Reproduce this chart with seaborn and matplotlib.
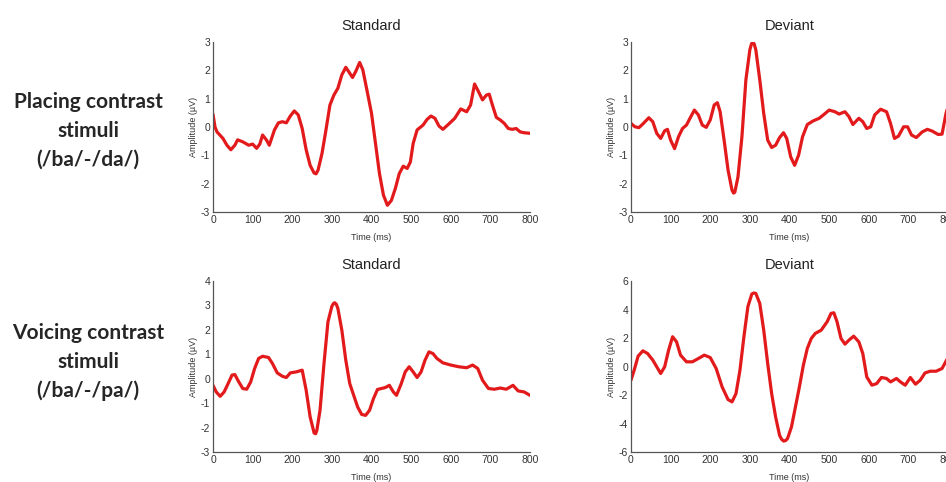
import numpy as np
import pandas as pd
import matplotlib
matplotlib.use("Agg")
import matplotlib.pyplot as plt
import seaborn as sns

# ERP waveforms (time in ms, amplitude in uV)
t_place_std = [0, 5, 10, 25, 35, 45, 55, 62, 75, 90, 100, 110, 118, 125, 135, 142, 155, 165, 175, 185,
               195, 205, 215, 225, 235, 245, 255, 260, 265, 275, 285, 295, 305, 315, 325, 335, 345, 352, 360,
               370, 378, 390, 400, 410, 420, 430, 440, 450, 460, 470, 480, 490, 498, 505, 515, 530, 540,
               550, 560, 570, 580, 595, 610, 625, 640, 650, 660, 670, 680, 690, 697, 705, 715, 725, 735,
               745, 755, 765, 775, 785, 800]
a_place_std = [0.45, 0.0, -0.17, -0.4, -0.64, -0.8, -0.64, -0.45, -0.52, -0.64, -0.6, -0.75, -0.6, -0.28,
               -0.46, -0.64, -0.1, 0.15, 0.19, 0.15, 0.39, 0.57, 0.43, -0.05, -0.8, -1.35, -1.62, -1.65, -1.52,
               -0.93, -0.1, 0.78, 1.13, 1.37, 1.84, 2.11, 1.9, 1.75, 1.96, 2.28, 2.02, 1.19, 0.48, -0.58,
               -1.64, -2.4, -2.76, -2.59, -2.17, -1.64, -1.38, -1.46, -1.23, -0.58, -0.1, 0.07, 0.27, 0.39,
               0.31, 0.04, -0.08, 0.11, 0.31, 0.64, 0.54, 0.78, 1.52, 1.25, 0.96, 1.13, 1.16, 0.78, 0.34,
               0.25, 0.13, -0.05, -0.08, -0.05, -0.17, -0.2, -0.22]

t_place_dev = [0, 10, 20, 30, 45, 55, 65, 75, 85, 92, 100, 110, 120, 130, 140, 150, 160, 170, 180, 190,
               200, 210, 218, 225, 235, 245, 255, 259, 262, 270, 280, 290, 300, 304, 307, 311, 315, 325, 335,
               345, 355, 365, 375, 385, 393, 403, 413, 423, 433, 445, 460, 475, 490, 500, 515, 525, 540,
               550, 560, 575, 585, 595, 605, 615, 630, 645, 655, 665, 675, 688, 698, 708, 720, 735, 748,
               760, 775, 785, 795, 800]
a_place_dev = [0.13, 0.01, -0.02, 0.11, 0.33, 0.19, -0.22, -0.4, -0.13, -0.08, -0.46, -0.76, -0.34, -0.05,
               0.07, 0.34, 0.6, 0.43, 0.07, -0.01, 0.25, 0.78, 0.86, 0.54, -0.46, -1.52, -2.23, -2.33,
               -2.3, -1.76, -0.34, 1.67, 2.73, 2.93, 3.0, 2.93, 2.73, 1.67, 0.48, -0.46, -0.72, -0.64,
               -0.37, -0.2, -0.4, -1.05, -1.35, -0.99, -0.34, 0.09, 0.22, 0.31, 0.48, 0.6, 0.54, 0.46,
               0.54, 0.37, 0.09, 0.31, 0.19, -0.05, 0.01, 0.43, 0.63, 0.54, 0.13, -0.4, -0.32, 0.01, 0.01,
               -0.28, -0.37, -0.17, -0.08, -0.14, -0.26, -0.25, 0.48, 0.74]

t_voice_std = [0, 8, 18, 28, 38, 48, 55, 65, 75, 85, 95, 105, 115, 125, 140, 150, 162, 175, 185, 195, 210,
               225, 235, 245, 255, 259, 262, 270, 280, 290, 300, 304, 307, 311, 315, 325, 335, 345, 355,
               365, 375, 385, 395, 405, 415, 425, 435, 445, 455, 463, 475, 485, 495, 505, 515, 525, 535,
               545, 555, 565, 580, 600, 620, 640, 655, 668, 680, 695, 710, 725, 740, 757, 770, 785, 800]
a_voice_std = [-0.27, -0.54, -0.72, -0.54, -0.2, 0.15, 0.17, -0.13, -0.4, -0.43, -0.13, 0.42, 0.83, 0.92,
               0.87, 0.62, 0.24, 0.1, 0.05, 0.24, 0.28, 0.35, -0.47, -1.56, -2.22, -2.25, -2.11, -1.29,
               0.62, 2.33, 2.97, 3.08, 3.11, 3.05, 2.88, 1.99, 0.76, -0.2, -0.68, -1.16, -1.46, -1.5,
               -1.29, -0.81, -0.44, -0.4, -0.36, -0.27, -0.54, -0.68, -0.2, 0.28, 0.49, 0.28, 0.05, 0.28,
               0.76, 1.1, 1.03, 0.83, 0.65, 0.56, 0.49, 0.45, 0.56, 0.42, -0.06, -0.4, -0.43, -0.38,
               -0.43, -0.27, -0.5, -0.54, -0.68]

t_voice_dev = [0, 8, 18, 30, 42, 55, 65, 75, 85, 95, 105, 115, 125, 140, 155, 170, 185, 200, 215, 230,
               245, 255, 265, 275, 285, 295, 305, 310, 315, 325, 335, 345, 355, 365, 375, 380, 385, 390,
               395, 405, 415, 425, 435, 445, 455, 465, 480, 495, 505, 512, 520, 530, 540, 550, 562, 575,
               585, 595, 608, 620, 632, 645, 655, 670, 680, 692, 705, 718, 730, 742, 755, 770, 785, 800]
a_voice_dev = [-0.96, -0.26, 0.73, 1.1, 0.91, 0.45, -0.02, -0.49, -0.02, 1.15, 2.09, 1.73, 0.8, 0.33,
               0.33, 0.56, 0.8, 0.63, -0.14, -1.43, -2.32, -2.48, -1.9, -0.26, 2.09, 4.2, 5.09, 5.16,
               5.13, 4.43, 2.55, 0.21, -1.9, -3.54, -4.83, -5.1, -5.23, -5.2, -5.06, -4.24, -2.84, -1.43,
               0.09, 1.27, 1.97, 2.32, 2.55, 3.14, 3.73, 3.77, 3.14, 1.97, 1.57, 1.85, 2.13, 1.73, 0.91,
               -0.73, -1.31, -1.2, -0.77, -0.84, -1.08, -0.84, -1.08, -1.31, -0.77, -1.24, -0.96, -0.45,
               -0.33, -0.33, -0.14, 0.63]

row_labels = ["Placing contrast\nstimuli\n(/ba/-/da/)", "Voicing contrast\nstimuli\n(/ba/-/pa/)"]
col_titles = ["Standard", "Deviant"]
x_ticks = [0, 100, 200, 300, 400, 500, 600, 700, 800]

sns.set_style("white")
plt.rcParams["font.family"] = ["Liberation Sans", "DejaVu Sans"]
plt.rcParams["axes.unicode_minus"] = False

fig = plt.figure(figsize=(9.46, 4.82), dpi=100)

panels = [
    (t_place_std, a_place_std, [0.2252, 0.560, 0.3351, 0.3527], (-3, 3), range(-3, 4), col_titles[0]),
    (t_place_dev, a_place_dev, [0.6670, 0.560, 0.3351, 0.3527], (-3, 3), range(-3, 4), col_titles[1]),
    (t_voice_std, a_voice_std, [0.2252, 0.0622, 0.3351, 0.3548], (-3, 4), range(-3, 5), col_titles[0]),
    (t_voice_dev, a_voice_dev, [0.6670, 0.0622, 0.3351, 0.3548], (-6, 6), range(-6, 7, 2), col_titles[1]),
]

for t, a, pos, ylim, yt, title in panels:
    ax = fig.add_axes(pos)
    df = pd.DataFrame({"time": t, "amp": a})
    sns.lineplot(data=df, x="time", y="amp", ax=ax, color="#e31a1c", linewidth=2.3,
                 solid_joinstyle="round", solid_capstyle="round")
    ax.set_xlim(0, 800)
    ax.set_ylim(*ylim)
    ax.set_xticks(x_ticks)
    ax.set_yticks(list(yt))
    ax.tick_params(direction="in", length=3, width=0.8, labelsize=7.5, colors="#333333", pad=2)
    for s in ["top", "right"]:
        ax.spines[s].set_visible(False)
    for s in ["left", "bottom"]:
        ax.spines[s].set_color("#555555")
        ax.spines[s].set_linewidth(0.9)
    ax.set_title(title, fontsize=10.5, color="#222222", pad=9)
    ax.set_xlabel("Time (ms)", fontsize=6.5, color="#333333", labelpad=6)
    ax.set_ylabel("Amplitude (\u00b5V)", fontsize=6.5, color="#333333", labelpad=2)

fig.text(0.093, 0.728, row_labels[0], ha="center", va="center", fontsize=15,
         fontweight="bold", family=["Lato", "DejaVu Sans"], linespacing=1.55)
fig.text(0.093, 0.249, row_labels[1], ha="center", va="center", fontsize=15,
         fontweight="bold", family=["Lato", "DejaVu Sans"], linespacing=1.55)

fig.savefig("out.png", dpi=100, facecolor="white")
